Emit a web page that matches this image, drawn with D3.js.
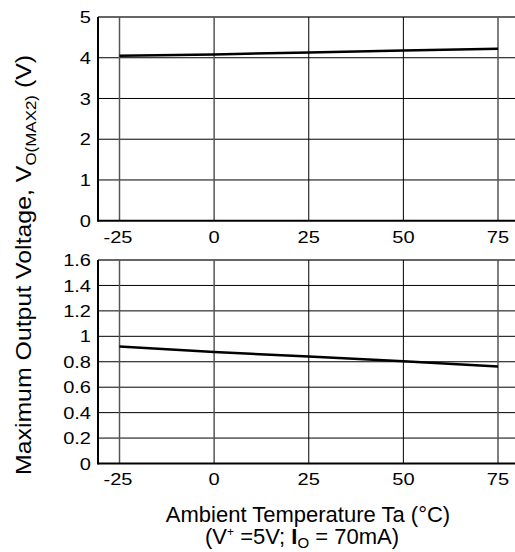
<!DOCTYPE html>
<html>
<head>
<meta charset="utf-8">
<script src="https://cdn.jsdelivr.net/npm/d3@7"></script>
<style>
  body { margin: 0; background: #fff; }
  text { font-family: "Liberation Sans", Arial, sans-serif; fill: #000; }
</style>
</head>
<body>
<div id="chart"></div>
<script>
  // temperatures (°C) and readings for both panels
  var temps = [-25, 0, 25, 50, 75],
    topValues = [4.05, 4.08, 4.13, 4.18, 4.22],
    bottomValues = [0.92, 0.876, 0.842, 0.803, 0.763],
    xTicks = [-25, 0, 25, 50, 75],
    topTicks = [0, 1, 2, 3, 4, 5],
    bottomTicks = [0, 0.2, 0.4, 0.6, 0.8, 1, 1.2, 1.4, 1.6];

  var w = 515, h = 552,
    left = 98, right = 515,
    wide = 1.18; // tick digits in the scan are a bit wider than Arial

  var svg = d3.select("#chart").append("svg")
    .attr("width", w).attr("height", h);

  // one panel: grid, frame, ticks, curve
  function drawPanel(values, ticks, yDomain, yTop, yBottom, xLabelY) {
    var x = d3.scaleLinear().domain([-25, 75]).range([119.5, 498]);
    var y = d3.scaleLinear().domain(yDomain).range([yBottom, yTop]);
    var g = svg.append("g");

    // horizontal grid
    g.selectAll(".hgrid").data(ticks.filter(function(t) { return t !== yDomain[0]; }))
      .enter().append("line")
        .attr("x1", left).attr("x2", right)
        .attr("y1", function(d) { return y(d); })
        .attr("y2", function(d) { return y(d); })
        .attr("stroke", function(d) { return d === yDomain[1] ? "#333" : "#000"; })
        .attr("stroke-width", function(d) { return d === yDomain[1] ? 1.5 : 1; });

    // vertical grid
    g.selectAll(".vgrid").data(xTicks)
      .enter().append("line")
        .attr("x1", function(d) { return x(d); })
        .attr("x2", function(d) { return x(d); })
        .attr("y1", yTop).attr("y2", yBottom)
        .attr("stroke", function(d) { return (d === 25 || d === 50) ? "#000" : "#555"; })
        .attr("stroke-width", function(d) { return (d === 25 || d === 50) ? 1 : 1.5; });

    // left and bottom frame
    g.append("line").attr("x1", left).attr("x2", left)
      .attr("y1", yTop).attr("y2", yBottom + 1)
      .attr("stroke", "#000").attr("stroke-width", 2);
    g.append("line").attr("x1", left).attr("x2", right)
      .attr("y1", yBottom).attr("y2", yBottom)
      .attr("stroke", "#000").attr("stroke-width", 2);

    // y tick labels
    g.selectAll(".ylab").data(ticks)
      .enter().append("text")
        .attr("transform", function(d) { return "translate(91," + y(d) + ") scale(" + wide + ",1)"; })
        .attr("dy", "0.36em")
        .attr("text-anchor", "end")
        .style("font-size", "17px")
        .text(function(d) { return d; });

    // x tick labels
    g.selectAll(".xlab").data(xTicks)
      .enter().append("text")
        .attr("transform", function(d) {
          return "translate(" + (x(d) - (d < 0 ? 1.5 : 0)) + "," + xLabelY + ") scale(" + wide + ",1)";
        })
        .attr("text-anchor", "middle")
        .style("font-size", "17px")
        .text(function(d) { return d; });

    var line = d3.line()
      .x(function(d, i) { return x(temps[i]); })
      .y(function(d) { return y(d); });

    g.append("path")
      .datum(values)
      .attr("d", line)
      .attr("fill", "none")
      .attr("stroke", "#000")
      .attr("stroke-width", 2.5);
  }

  drawPanel(topValues, topTicks, [0, 5], 17, 220.7, 243);
  drawPanel(bottomValues, bottomTicks, [0, 1.6], 260, 463.5, 485);

  // y axis title
  var yTitle = svg.append("text")
    .attr("transform", "translate(31,265) rotate(-90) scale(1.13,1)")
    .attr("text-anchor", "middle")
    .style("font-size", "22px");
  yTitle.append("tspan").text("Maximum Output Voltage, V");
  yTitle.append("tspan").attr("dy", 5).style("font-size", "15px").text("O(MAX2)");
  yTitle.append("tspan").attr("dy", -5).text(" (V)");

  // x axis title, two lines
  svg.append("text")
    .attr("x", 308).attr("y", 522)
    .attr("text-anchor", "middle")
    .style("font-size", "22px")
    .text("Ambient Temperature Ta (°C)");

  var cond = svg.append("text")
    .attr("x", 302).attr("y", 544)
    .attr("text-anchor", "middle")
    .style("font-size", "22px");
  cond.append("tspan").text("(V");
  cond.append("tspan").attr("dy", -8).style("font-size", "12px").text("+");
  cond.append("tspan").attr("dy", 8).text(" =5V; ");
  cond.append("tspan").style("font-weight", "bold").text("I");
  cond.append("tspan").attr("dy", 4).style("font-size", "15px").text("O");
  cond.append("tspan").attr("dy", -4).text(" = 70mA)");
</script>
</body>
</html>
